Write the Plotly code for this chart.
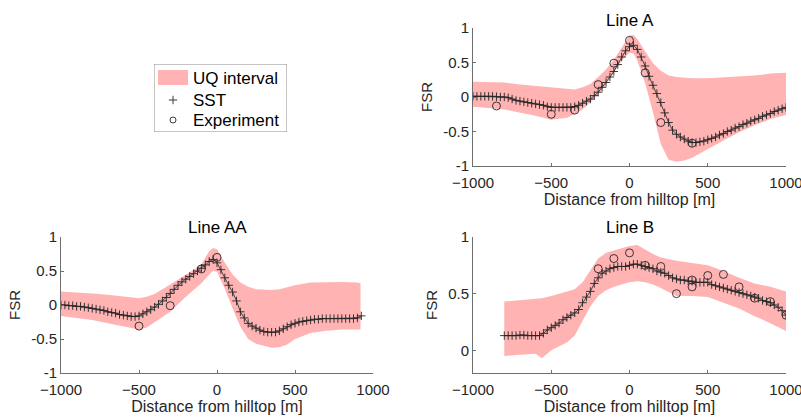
import plotly.graph_objects as go

# ---------------- data ----------------
# SST model profiles, sampled every 25 m
x_sst_a = list(range(-1000, 1001, 25))
sst_a = [0.01, 0.01, 0.01, 0.01, 0.01, 0.01, 0.005, 0.0, 0.0, -0.01,
         -0.03, -0.05, -0.06, -0.07, -0.08, -0.09, -0.10, -0.11, -0.12, -0.14,
         -0.15, -0.15, -0.15, -0.15, -0.15, -0.15, -0.14, -0.12, -0.09, -0.06,
         -0.03, 0.02, 0.07, 0.14, 0.21, 0.29, 0.37, 0.47, 0.58, 0.67,
         0.73, 0.75, 0.69, 0.58, 0.45, 0.30, 0.17, 0.05, -0.08, -0.23,
         -0.37, -0.48, -0.54, -0.58, -0.61, -0.64, -0.66, -0.66, -0.65, -0.64,
         -0.62, -0.60, -0.58, -0.55, -0.53, -0.50, -0.48, -0.45, -0.43, -0.40,
         -0.38, -0.35, -0.33, -0.31, -0.28, -0.26, -0.24, -0.21, -0.19, -0.17,
         -0.15]

x_sst_aa = list(range(-1000, 926, 25))
sst_aa = [0.0, 0.0, -0.01, -0.01, -0.02, -0.02, -0.03, -0.04, -0.05, -0.06,
          -0.07, -0.08, -0.10, -0.11, -0.12, -0.14, -0.15, -0.16, -0.17, -0.17,
          -0.16, -0.13, -0.10, -0.07, -0.03, 0.01, 0.06, 0.11, 0.17, 0.23,
          0.29, 0.34, 0.38, 0.42, 0.46, 0.50, 0.54, 0.59, 0.64, 0.67,
          0.62, 0.52, 0.40, 0.29, 0.19, 0.06, -0.10, -0.19, -0.27, -0.31,
          -0.34, -0.37, -0.39, -0.40, -0.40, -0.40, -0.38, -0.35, -0.32, -0.29,
          -0.27, -0.25, -0.24, -0.23, -0.22, -0.21, -0.21, -0.20, -0.20, -0.20,
          -0.20, -0.20, -0.20, -0.20, -0.20, -0.20, -0.19, -0.16]

x_sst_b = list(range(-800, 1001, 25))
sst_b = [0.13, 0.13, 0.13, 0.13, 0.135, 0.135, 0.13, 0.13, 0.13, 0.13,
         0.15, 0.18, 0.20, 0.22, 0.24, 0.27, 0.29, 0.31, 0.33, 0.36,
         0.42, 0.47, 0.52, 0.59, 0.64, 0.68, 0.70, 0.72, 0.73, 0.74,
         0.74, 0.74, 0.75, 0.76, 0.76, 0.75, 0.74, 0.73, 0.72, 0.70,
         0.69, 0.68, 0.66, 0.64, 0.63, 0.62, 0.62, 0.61, 0.61, 0.60,
         0.60, 0.60, 0.60, 0.58, 0.57, 0.56, 0.55, 0.54, 0.53, 0.52,
         0.51, 0.50, 0.49, 0.48, 0.47, 0.46, 0.44, 0.43, 0.42, 0.40,
         0.38, 0.35, 0.31]

# Measurements
x_exp_a = [-850, -500, -350, -200, -100, 0, 100, 200, 400]
exp_a = [-0.13, -0.25, -0.19, 0.18, 0.49, 0.82, 0.35, -0.37, -0.67]

x_exp_aa = [-500, -300, -100, 0]
exp_aa = [-0.31, -0.01, 0.53, 0.70]

x_exp_b = [-200, -100, 0, 100, 200, 300, 400, 400, 500, 600, 700, 800, 900, 1000]
exp_b = [0.72, 0.81, 0.86, 0.75, 0.74, 0.50, 0.62, 0.56, 0.66, 0.67, 0.56, 0.46, 0.43, 0.31]

# Uncertainty-quantification envelopes
x_uq_a = [-1000, -900, -800, -700, -600, -500, -400, -350, -300, -250, -200, -150,
          -100, -50, 0, 25, 50, 100, 150, 200, 250, 300, 350, 400, 500, 600,
          700, 800, 900, 1000]
uq_a_hi = [0.22, 0.22, 0.21, 0.18, 0.16, 0.13, 0.11, 0.11, 0.14, 0.19, 0.29, 0.40,
           0.54, 0.72, 0.89, 0.90, 0.84, 0.66, 0.49, 0.38, 0.31, 0.29, 0.28, 0.27,
           0.27, 0.28, 0.29, 0.31, 0.34, 0.35]
uq_a_lo = [-0.14, -0.16, -0.18, -0.22, -0.27, -0.33, -0.30, -0.25, -0.18, -0.08,
           0.04, 0.18, 0.35, 0.53, 0.64, 0.63, 0.53, 0.20, -0.22, -0.68, -0.91,
           -0.94, -0.92, -0.88, -0.76, -0.63, -0.51, -0.41, -0.32, -0.26]

x_uq_aa = [-1000, -900, -800, -700, -600, -500, -450, -400, -300, -200, -150, -100,
           -50, -25, 0, 50, 100, 150, 200, 250, 300, 350, 400, 450, 500, 600,
           700, 800, 900, 920]
uq_aa_hi = [0.20, 0.19, 0.17, 0.15, 0.12, 0.10, 0.12, 0.16, 0.30, 0.44, 0.52, 0.60,
            0.79, 0.84, 0.82, 0.62, 0.45, 0.33, 0.27, 0.23, 0.22, 0.22, 0.23, 0.26,
            0.29, 0.33, 0.34, 0.34, 0.33, 0.32]
uq_aa_lo = [-0.16, -0.19, -0.22, -0.27, -0.32, -0.36, -0.33, -0.26, -0.10, 0.12,
            0.22, 0.32, 0.45, 0.50, 0.49, 0.24, -0.05, -0.32, -0.50, -0.57, -0.60,
            -0.63, -0.62, -0.58, -0.50, -0.41, -0.38, -0.36, -0.36, -0.36]

x_uq_b = [-800, -700, -600, -560, -500, -400, -350, -300, -250, -200, -150, -100,
          -50, 0, 50, 100, 150, 200, 300, 400, 500, 600, 700, 800, 900, 1000]
uq_b_hi = [0.43, 0.44, 0.45, 0.46, 0.48, 0.52, 0.54, 0.60, 0.71, 0.81, 0.86, 0.88,
           0.90, 0.92, 0.93, 0.89, 0.85, 0.82, 0.79, 0.77, 0.75, 0.70, 0.64, 0.59,
           0.56, 0.52]
uq_b_lo = [-0.05, -0.04, -0.03, -0.07, 0.00, 0.07, 0.13, 0.26, 0.39, 0.48, 0.53,
           0.56, 0.58, 0.60, 0.61, 0.60, 0.58, 0.55, 0.48, 0.48, 0.47, 0.42, 0.37,
           0.30, 0.24, 0.17]

legend_labels = ["UQ interval", "SST", "Experiment"]
panel_titles = ["Line A", "Line AA", "Line B"]

# ---------------- styling ----------------
FONT = "Liberation Sans, Arial, Helvetica, sans-serif"
BAND = "#ffb3b3"
INK = "#262626"
AXIS = "#6e6e6e"
W, H = 801, 418

fig = go.Figure()

panels = [
    ("x", "y", x_sst_a, sst_a, x_exp_a, exp_a, x_uq_a, uq_a_hi, uq_a_lo),
    ("x2", "y2", x_sst_aa, sst_aa, x_exp_aa, exp_aa, x_uq_aa, uq_aa_hi, uq_aa_lo),
    ("x3", "y3", x_sst_b, sst_b, x_exp_b, exp_b, x_uq_b, uq_b_hi, uq_b_lo),
]

for xa, ya, xs, ys, xe, ye, xu, hi, lo in panels:
    fig.add_trace(go.Scatter(
        x=xu + xu[::-1], y=hi + lo[::-1], fill="toself", fillcolor=BAND,
        line=dict(width=0, color=BAND), mode="lines", hoverinfo="skip",
        showlegend=False, xaxis=xa, yaxis=ya))
    fig.add_trace(go.Scatter(
        x=xs, y=ys, mode="lines+markers",
        line=dict(color=INK, width=0.8),
        marker=dict(symbol="cross-thin", size=6, line=dict(color=INK, width=0.9)),
        showlegend=False, xaxis=xa, yaxis=ya))
    fig.add_trace(go.Scatter(
        x=xe, y=ye, mode="markers",
        marker=dict(symbol="circle-open", size=8, color=INK, line=dict(color=INK, width=0.9)),
        showlegend=False, xaxis=xa, yaxis=ya))

# Legend drawn on its own small pixel-unit axis
fig.add_trace(go.Scatter(x=[19], y=[36], mode="markers",
                         marker=dict(symbol="cross-thin", size=6, line=dict(color=INK, width=0.9)),
                         showlegend=False, xaxis="x4", yaxis="y4", hoverinfo="skip"))
fig.add_trace(go.Scatter(x=[19], y=[56], mode="markers",
                         marker=dict(symbol="circle-open", size=6, color=INK, line=dict(color=INK, width=0.9)),
                         showlegend=False, xaxis="x4", yaxis="y4", hoverinfo="skip"))


def px_x(p):
    return p / W


def px_y(p):
    return 1 - p / H


common_x = dict(range=[-1000, 1000], tickvals=[-1000, -500, 0, 500, 1000],
                ticks="inside", ticklen=3, tickcolor=AXIS, showline=True,
                linecolor=AXIS, linewidth=1, showgrid=False, zeroline=False,
                automargin=False, ticklabeloverflow="allow", ticklabelstandoff=3,
                tickfont=dict(family=FONT, size=15, color=INK),
                title=dict(text="Distance from hilltop [m]",
                           font=dict(family=FONT, size=16, color=INK), standoff=3))
common_y = dict(ticks="inside", ticklen=3, tickcolor=AXIS, showline=True,
                linecolor=AXIS, linewidth=1, showgrid=False, zeroline=False,
                automargin=False, ticklabeloverflow="allow",
                tickfont=dict(family=FONT, size=15, color=INK),
                title=dict(text="FSR", font=dict(family=FONT, size=15, color=INK), standoff=6))

fig.update_layout(
    width=W, height=H, margin=dict(l=0, r=0, t=0, b=0, autoexpand=False),
    plot_bgcolor="white", paper_bgcolor="white",
    font=dict(family=FONT, size=15, color=INK),
    xaxis=dict(domain=[px_x(473), px_x(786)], anchor="y", **common_x),
    yaxis=dict(domain=[px_y(166), px_y(28)], anchor="x", range=[-1, 1],
               tickvals=[-1, -0.5, 0, 0.5, 1], ticktext=["-1", "-0.5", "0", "0.5", "1"], **common_y),
    xaxis2=dict(domain=[px_x(61), px_x(373)], anchor="y2", **common_x),
    yaxis2=dict(domain=[px_y(373), px_y(237)], anchor="x2", range=[-1, 1],
                tickvals=[-1, -0.5, 0, 0.5, 1], ticktext=["-1", "-0.5", "0", "0.5", "1"], **common_y),
    xaxis3=dict(domain=[px_x(473), px_x(786)], anchor="y3", **common_x),
    yaxis3=dict(domain=[px_y(373), px_y(237)], anchor="x3", range=[-0.2, 1],
                tickvals=[0, 0.5, 1], ticktext=["0", "0.5", "1"], **common_y),
    xaxis4=dict(domain=[px_x(154), px_x(287)], anchor="y4", range=[0, 133],
                visible=False, fixedrange=True, automargin=False),
    yaxis4=dict(domain=[px_y(132), px_y(64)], anchor="x4", range=[68, 0],
                visible=False, fixedrange=True, automargin=False),
)

# Panel titles
title_pos = [(629.5, 20), (217, 227), (629.5, 227)]
for text, (cx, cy) in zip(panel_titles, title_pos):
    fig.add_annotation(text=text, x=px_x(cx), y=px_y(cy), xref="paper", yref="paper",
                       showarrow=False, xanchor="center", yanchor="middle",
                       font=dict(family=FONT, size=17, color="black"))

# Legend frame, swatch and labels
fig.add_shape(type="rect", xref="x4", yref="y4", x0=0, x1=133, y0=0, y1=68,
              line=dict(color="#8c8c8c", width=1), fillcolor="white", layer="below")
fig.add_shape(type="rect", xref="x4", yref="y4", x0=4, x1=34, y0=6, y1=21,
              line=dict(width=0), fillcolor=BAND)
for text, yy in zip(legend_labels, [14, 36, 56]):
    fig.add_annotation(text=text, x=37, y=yy, xref="x4", yref="y4", showarrow=False,
                       xanchor="left", yanchor="middle",
                       font=dict(family=FONT, size=17, color="black"))

fig.write_html("out.html")
